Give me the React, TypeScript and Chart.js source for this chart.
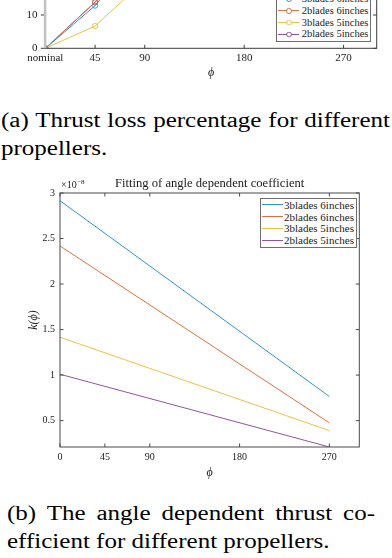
import React, { useEffect, useRef } from 'react';
import { Chart, registerables } from 'chart.js';
Chart.register(...registerables);

const FONT = '"Liberation Serif", "Times New Roman", serif';

const SERIES_LABELS = ['3blades 6inches', '2blades 6inches', '3blades 5inches', '2blades 5inches'];
const SERIES_COLORS = ['#3391d0', '#e07040', '#f0bf48', '#94529f'];

// (a) thrust loss percentage
const LOSS_ANGLES = [0, 45, 90, 180, 270];
const LOSS_3B6 = [0, 12.8, 31, 50, 64];
const LOSS_2B6 = [0, 13.8, 30, 47, 60];
const LOSS_3B5 = [0, 6.7, 20.4, 37, 49];
const LOSS_2B5 = [0, 13.9, 29, 45, 57];
const LOSS_X_TICKS = [0, 45, 90, 180, 270];
const LOSS_X_TICK_LABELS = ['nominal', '45', '90', '180', '270'];
const LOSS_Y_TICKS = [0, 10, 20, 30, 40, 50, 60, 70, 80];

// (b) angle dependent coefficient (x 1e-8)
const COEF_ANGLES = [0, 270];
const COEF_3B6 = [2.915, 0.765];
const COEF_2B6 = [2.418, 0.475];
const COEF_3B5 = [1.416, 0.39];
const COEF_2B5 = [1.009, 0.21];
const COEF_X_TICKS = [0, 45, 90, 180, 270];
const COEF_Y_TICKS = [0.5, 1, 1.5, 2, 2.5, 3];
const COEF_Y_TICK_LABELS = ['0.5', '1', '1.5', '2', '2.5', '3'];

const LOSS_SERIES = [LOSS_3B6, LOSS_2B6, LOSS_3B5, LOSS_2B5];
const COEF_SERIES = [COEF_3B6, COEF_2B6, COEF_3B5, COEF_2B5];

const TEXT_COLOR = '#1c1c1c';

const axesBox = {
  id: 'axesBox',
  afterDatasetsDraw(chart: any, _args: any, opts: any) {
    const { ctx, chartArea } = chart;
    const { left, right, top, bottom } = chartArea;
    const x = chart.scales.x;
    const y = chart.scales.y;
    const L = opts.tickLen || 3;
    ctx.save();
    ctx.strokeStyle = opts.color || '#444';
    ctx.lineWidth = opts.width || 1;
    const line = (x1: number, y1: number, x2: number, y2: number) => {
      ctx.beginPath();
      ctx.moveTo(x1, y1);
      ctx.lineTo(x2, y2);
      ctx.stroke();
    };
    ctx.strokeRect(left, top, right - left, bottom - top);
    x.ticks.forEach((t: any) => {
      const px = x.getPixelForValue(t.value);
      line(px, bottom, px, bottom - L);
      line(px, top, px, top + L);
    });
    y.ticks.forEach((t: any) => {
      const py = y.getPixelForValue(t.value);
      if (opts.yOut) line(left - L - 1, py, left, py);
      else line(left, py, left + L, py);
      line(right, py, right - L, py);
    });
    if (opts.leftGray) {
      ctx.strokeStyle = opts.leftGray;
      ctx.lineWidth = 2.6;
      line(left - 0.3, top, left - 0.3, bottom);
    }
    if (opts.exponent) {
      ctx.fillStyle = TEXT_COLOR;
      ctx.textBaseline = 'alphabetic';
      ctx.textAlign = 'left';
      ctx.font = `10px ${FONT}`;
      ctx.fillText('×10', left + 1, top - 5);
      const w = ctx.measureText('×10').width;
      ctx.font = `7px ${FONT}`;
      ctx.fillText(opts.exponent, left + 1 + w + 0.5, top - 9.5);
    }
    ctx.restore();
  },
};

function makeLossChart(canvas: HTMLCanvasElement) {
  return new Chart(canvas, {
    type: 'line',
    data: {
      datasets: LOSS_SERIES.map((vals, i) => ({
        label: SERIES_LABELS[i],
        data: LOSS_ANGLES.map((a, j) => ({ x: a, y: vals[j] })),
        borderColor: SERIES_COLORS[i],
        backgroundColor: 'rgba(0,0,0,0)',
        borderWidth: 1,
        pointRadius: 2.6,
        pointBorderWidth: 0.9,
        pointBackgroundColor: 'rgba(0,0,0,0)',
        pointBorderColor: SERIES_COLORS[i],
        tension: 0,
      })),
    },
    options: {
      animation: false,
      responsive: false,
      maintainAspectRatio: false,
      events: [],
      layout: { padding: { top: 21.9, right: 15.3, left: 0, bottom: 0 } },
      plugins: {
        legend: { display: false },
        tooltip: { enabled: false },
        axesBox: { tickLen: 3.5, color: '#3a3a3a', width: 1, yOut: true, leftGray: '#c2c2c2' },
      } as any,
      scales: {
        x: {
          type: 'linear',
          min: 0,
          max: 300,
          afterBuildTicks: (s: any) => {
            s.ticks = LOSS_X_TICKS.map((v) => ({ value: v }));
          },
          afterFit: (s: any) => {
            s.height = 31.7;
          },
          grid: { display: false, drawTicks: false },
          border: { display: false },
          ticks: {
            padding: 3.4,
            color: TEXT_COLOR,
            maxRotation: 0,
            autoSkip: false,
            font: { family: FONT, size: 11 },
            callback: (v: any) => {
              const k = LOSS_X_TICKS.indexOf(Number(v));
              return k >= 0 ? LOSS_X_TICK_LABELS[k] : '';
            },
          },
          title: {
            display: true,
            text: 'ϕ',
            color: TEXT_COLOR,
            font: { family: FONT, size: 12, style: 'italic' },
            padding: { top: 0, bottom: 0.1 },
          },
        },
        y: {
          type: 'linear',
          min: 0,
          max: 80,
          afterBuildTicks: (s: any) => {
            s.ticks = LOSS_Y_TICKS.map((v) => ({ value: v }));
          },
          afterFit: (s: any) => {
            s.width = 45.4;
          },
          grid: { display: false, drawTicks: false },
          border: { display: false },
          ticks: {
            padding: 8,
            color: TEXT_COLOR,
            font: { family: FONT, size: 11 },
          },
        },
      },
    },
    plugins: [axesBox],
  } as any);
}

function makeCoefChart(canvas: HTMLCanvasElement) {
  return new Chart(canvas, {
    type: 'line',
    data: {
      datasets: COEF_SERIES.map((vals, i) => ({
        label: SERIES_LABELS[i],
        data: COEF_ANGLES.map((a, j) => ({ x: a, y: vals[j] })),
        borderColor: SERIES_COLORS[i],
        backgroundColor: 'rgba(0,0,0,0)',
        borderWidth: 1,
        pointRadius: 0,
        tension: 0,
      })),
    },
    options: {
      animation: false,
      responsive: false,
      maintainAspectRatio: false,
      events: [],
      layout: { padding: { top: 0, right: 32.7, left: 0, bottom: 0 } },
      plugins: {
        legend: { display: false },
        tooltip: { enabled: false },
        title: {
          display: true,
          fullSize: false,
          text: 'Fitting of angle dependent coefficient',
          color: TEXT_COLOR,
          font: { family: FONT, size: 12.6, weight: 'normal' },
          padding: { top: 4.44, bottom: 1.44 },
        },
        axesBox: { tickLen: 3.5, color: '#4a4a4a', width: 1, exponent: '−8' },
      } as any,
      scales: {
        x: {
          type: 'linear',
          min: 0,
          max: 300,
          afterBuildTicks: (s: any) => {
            s.ticks = COEF_X_TICKS.map((v) => ({ value: v }));
          },
          afterFit: (s: any) => {
            s.height = 34;
          },
          grid: { display: false, drawTicks: false },
          border: { display: false },
          ticks: {
            padding: 4.7,
            color: TEXT_COLOR,
            maxRotation: 0,
            autoSkip: false,
            font: { family: FONT, size: 10 },
            callback: (v: any) => String(v),
          },
          title: {
            display: true,
            text: 'ϕ',
            color: TEXT_COLOR,
            font: { family: FONT, size: 12, style: 'italic' },
            padding: { top: 0, bottom: 0.5 },
          },
        },
        y: {
          type: 'linear',
          min: 0.21,
          max: 3,
          afterBuildTicks: (s: any) => {
            s.ticks = COEF_Y_TICKS.map((v) => ({ value: v }));
          },
          afterFit: (s: any) => {
            s.width = 60;
          },
          grid: { display: false, drawTicks: false },
          border: { display: false },
          ticks: {
            padding: 5,
            color: TEXT_COLOR,
            font: { family: FONT, size: 10 },
            callback: (v: any) => {
              const k = COEF_Y_TICKS.indexOf(Number(v));
              return k >= 0 ? COEF_Y_TICK_LABELS[k] : '';
            },
          },
          title: {
            display: true,
            text: 'k(ϕ)',
            color: TEXT_COLOR,
            font: { family: FONT, size: 12, style: 'italic' },
            padding: { top: 26.8, bottom: 0 },
          },
        },
      },
    },
    plugins: [axesBox],
  } as any);
}

function ChartCanvas({ make, left, top, width, height }: any) {
  const ref = useRef<HTMLCanvasElement | null>(null);
  useEffect(() => {
    if (!ref.current) return;
    const c = make(ref.current);
    return () => c.destroy();
  }, []);
  return (
    <canvas
      ref={ref}
      width={width}
      height={height}
      style={{ position: 'absolute', left, top, width, height }}
    />
  );
}

function Legend({ left, top, width, height, firstY, step, sampleFrom, sampleTo, textLeft, fontSize, markers }: any) {
  return (
    <div
      style={{
        position: 'absolute',
        left,
        top,
        width,
        height,
        boxSizing: 'border-box',
        border: '1px solid #6e6e6e',
        background: '#fff',
      }}
    >
      {SERIES_LABELS.map((lab, i) => {
        const yc = firstY + i * step;
        return (
          <React.Fragment key={lab}>
            <div
              style={{
                position: 'absolute',
                left: sampleFrom - 1,
                top: yc - 1.5,
                width: sampleTo - sampleFrom,
                height: 1,
                background: SERIES_COLORS[i],
              }}
            />
            {markers && (
              <div
                style={{
                  position: 'absolute',
                  left: (sampleFrom + sampleTo) / 2 - 1 - 2.8,
                  top: yc - 1 - 2.8,
                  width: 5.6,
                  height: 5.6,
                  boxSizing: 'border-box',
                  border: `0.9px solid ${SERIES_COLORS[i]}`,
                  borderRadius: '50%',
                  background: '#fff',
                }}
              />
            )}
            <div
              style={{
                position: 'absolute',
                left: textLeft - 1,
                top: yc - 1 - 6,
                height: 12,
                lineHeight: '12px',
                fontFamily: FONT,
                fontSize,
                color: TEXT_COLOR,
                whiteSpace: 'nowrap',
              }}
            >
              {lab}
            </div>
          </React.Fragment>
        );
      })}
    </div>
  );
}

function CaptionLine({ text, left, baseline, width, justify }: any) {
  const scale = 1.25;
  return (
    <div
      style={{
        position: 'absolute',
        left,
        top: baseline - 16.8,
        width: width ? width / scale : undefined,
        fontFamily: FONT,
        fontSize: 20,
        lineHeight: '20px',
        color: '#000',
        whiteSpace: 'nowrap',
        textAlign: justify ? 'justify' : 'left',
        textAlignLast: justify ? 'justify' : 'left',
        transform: `scaleX(${scale})`,
        transformOrigin: '0 0',
      } as any}
    >
      {text}
    </div>
  );
}

export default function App() {
  return (
    <div
      style={{
        position: 'absolute',
        left: 0,
        top: 0,
        width: 392,
        height: 558,
        overflow: 'hidden',
        background: '#fff',
      }}
    >
      <ChartCanvas make={makeLossChart} left={0} top={-240} width={392} height={320} />
      <Legend
        left={276}
        top={-7}
        width={94.7}
        height={48.7}
        firstY={6}
        step={11.8}
        sampleFrom={2.3}
        sampleTo={23.3}
        textLeft={25.7}
        fontSize={10.5}
        markers
      />
      <CaptionLine text="(a) Thrust loss percentage for different" left={1} baseline={127.2} width={389} justify />
      <CaptionLine text="propellers." left={1} baseline={154.5} />

      <ChartCanvas make={makeCoefChart} left={0} top={172} width={392} height={309} />
      <Legend
        left={260}
        top={198.3}
        width={97}
        height={50}
        firstY={6.7}
        step={11.67}
        sampleFrom={2.3}
        sampleTo={23.3}
        textLeft={24}
        fontSize={11}
      />
      <CaptionLine text="(b) The angle dependent thrust co-" left={7} baseline={520} width={368} justify />
      <CaptionLine text="efficient for different propellers." left={7} baseline={547.3} />
    </div>
  );
}
